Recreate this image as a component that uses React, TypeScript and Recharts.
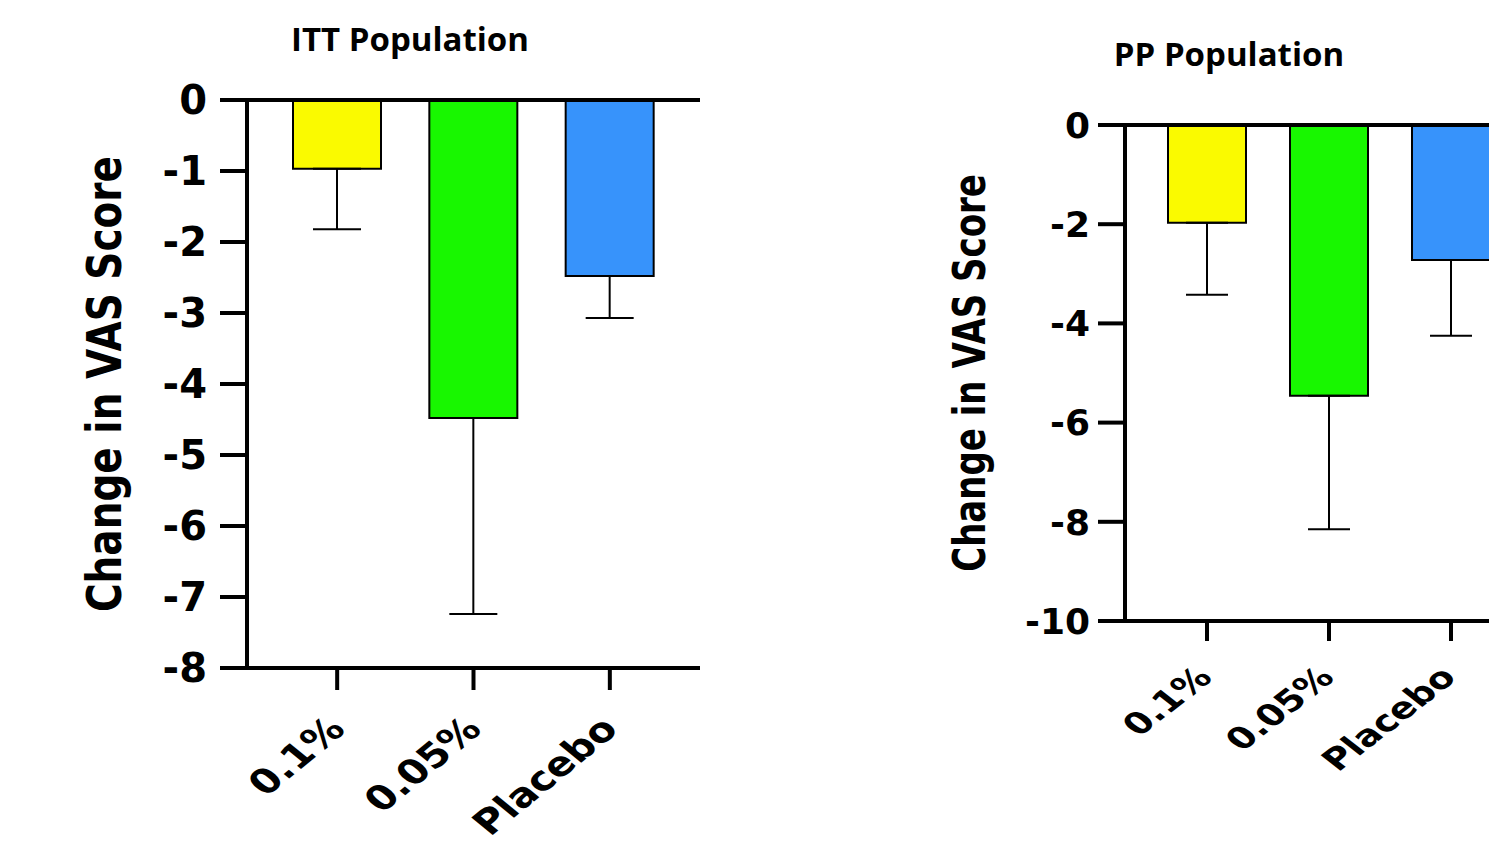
import React from 'react';
import { BarChart, Bar, XAxis, YAxis, ErrorBar, Cell, ReferenceLine, Label } from 'recharts';

const CATEGORIES = ['0.1%', '0.05%', 'Placebo'];
const BAR_COLORS = ['#FAFA00', '#18F700', '#3793FB'];

// ITT population: mean change and one-sided (downward) error
const ITT_MEANS = [-0.97, -4.48, -2.48];
const ITT_ERRORS = [0.85, 2.76, 0.59];
const ITT_TICKS = [0, -1, -2, -3, -4, -5, -6, -7, -8];

// PP population
const PP_MEANS = [-1.97, -5.46, -2.72];
const PP_ERRORS = [1.45, 2.69, 1.53];
const PP_TICKS = [0, -2, -4, -6, -8, -10];

const AXIS_FONT = "'DejaVu Sans', 'Liberation Sans', sans-serif";
const TITLE_FONT = "'Open Sans', 'Noto Sans', sans-serif";

const buildRows = (means: number[], errors: number[]) =>
  CATEGORIES.map((name, i) => ({ name, value: means[i], err: [errors[i], 0] }));

const ittData = buildRows(ITT_MEANS, ITT_ERRORS);
const ppData = buildRows(PP_MEANS, PP_ERRORS);

// the source image is stretched sideways, so the slanted labels get a scaleX
function makeXTick(fontSize: number, dx: number, dy: number, sx: number) {
  return (props: any) => {
    const { x, y, payload } = props;
    return (
      <g transform={`translate(${x + dx},${y + dy}) scale(${sx},1)`}>
        <text
          textAnchor="end"
          transform="rotate(-45)"
          fontFamily={AXIS_FONT}
          fontWeight={700}
          fontSize={fontSize}
          fill="#000"
        >
          {payload.value}
        </text>
      </g>
    );
  };
}

function makeYLabel(dx: number, fontSize: number, sx: number) {
  return (props: any) => {
    const vb = props.viewBox;
    const cx = vb.x + dx;
    const cy = vb.y + vb.height / 2;
    return (
      <g transform={`translate(${cx},${cy}) scale(${sx},1)`}>
        <text
          x={0}
          y={0}
          transform="rotate(-90)"
          textAnchor="middle"
          dominantBaseline="central"
          fontFamily={AXIS_FONT}
          fontWeight={700}
          fontSize={fontSize}
          fill="#000"
        >
          Change in VAS Score
        </text>
      </g>
    );
  };
}

type PanelProps = {
  data: any[];
  left: number;
  width: number;
  top: number;
  yAxisWidth: number;
  domain: [number, number];
  ticks: number[];
  tickFont: number;
  tickMargin: number;
  xTickSize: number;
  xPad: number;
  barSize: number;
  capHalf: number;
  labelDx: number;
  labelFont: number;
  labelSx: number;
  xLabelFont: number;
  xLabelDx: number;
  xLabelDy: number;
  xLabelSx: number;
  plotBottom: number;
};

function Panel(p: PanelProps) {
  return (
    <div style={{ position: 'absolute', left: p.left, top: 0 }}>
      <BarChart
        width={p.width}
        height={844}
        data={p.data}
        margin={{ top: p.top, right: 20, bottom: 0, left: 0 }}
      >
        <XAxis
          dataKey="name"
          height={844 - p.plotBottom}
          padding={{ left: p.xPad, right: p.xPad }}
          axisLine={{ stroke: '#000', strokeWidth: 4 }}
          tickLine={{ stroke: '#000', strokeWidth: 4 }}
          tickSize={p.xTickSize}
          interval={0}
          tick={makeXTick(p.xLabelFont, p.xLabelDx, p.xLabelDy, p.xLabelSx)}
        />
        <YAxis
          width={p.yAxisWidth}
          domain={p.domain}
          ticks={p.ticks}
          allowDataOverflow
          axisLine={{ stroke: '#000', strokeWidth: 4 }}
          tickLine={{ stroke: '#000', strokeWidth: 4 }}
          tickSize={27}
          tickMargin={p.tickMargin}
          tick={{ fill: '#000', fontSize: p.tickFont, fontWeight: 700, fontFamily: AXIS_FONT }}
        >
          <Label content={makeYLabel(p.labelDx, p.labelFont, p.labelSx)} />
        </YAxis>
        <ReferenceLine y={0} stroke="#000" strokeWidth={4} />
        <Bar dataKey="value" barSize={p.barSize} stroke="#000" strokeWidth={2} isAnimationActive={false}>
          {p.data.map((d, i) => (
            <Cell key={d.name} fill={BAR_COLORS[i]} />
          ))}
          <ErrorBar dataKey="err" width={p.capHalf} stroke="#000" strokeWidth={2} direction="y" />
        </Bar>
      </BarChart>
    </div>
  );
}

export default function App() {
  return (
    <div
      style={{
        position: 'fixed',
        left: 0,
        top: 0,
        width: 1489,
        height: 844,
        overflow: 'hidden',
        background: '#fff',
      }}
    >
      <div
        style={{
          position: 'absolute',
          left: 210,
          width: 400,
          top: 22,
          textAlign: 'center',
          fontFamily: TITLE_FONT,
          fontWeight: 700,
          fontSize: 33,
          lineHeight: 1,
        }}
      >
        ITT Population
      </div>
      <div
        style={{
          position: 'absolute',
          left: 1029,
          width: 400,
          top: 37,
          textAlign: 'center',
          fontFamily: TITLE_FONT,
          fontWeight: 700,
          fontSize: 33,
          lineHeight: 1,
        }}
      >
        PP Population
      </div>

      <Panel
        data={ittData}
        left={0}
        width={720}
        top={100}
        yAxisWidth={247}
        domain={[-8, 0]}
        ticks={ITT_TICKS}
        tickFont={40}
        tickMargin={13}
        xTickSize={22}
        xPad={22}
        barSize={88}
        capHalf={24}
        labelDx={104}
        labelFont={39}
        labelSx={1.25}
        xLabelFont={34}
        xLabelDx={10}
        xLabelDy={39}
        xLabelSx={1.22}
        plotBottom={668}
      />
      <Panel
        data={ppData}
        left={840}
        width={713}
        top={125}
        yAxisWidth={285}
        domain={[-10, 0]}
        ticks={PP_TICKS}
        tickFont={36}
        tickMargin={8}
        xTickSize={20}
        xPad={21}
        barSize={78}
        capHalf={21}
        labelDx={129}
        labelFont={34}
        labelSx={1.3}
        xLabelFont={30}
        xLabelDx={7}
        xLabelDy={36}
        xLabelSx={1.28}
        plotBottom={621}
      />
    </div>
  );
}
